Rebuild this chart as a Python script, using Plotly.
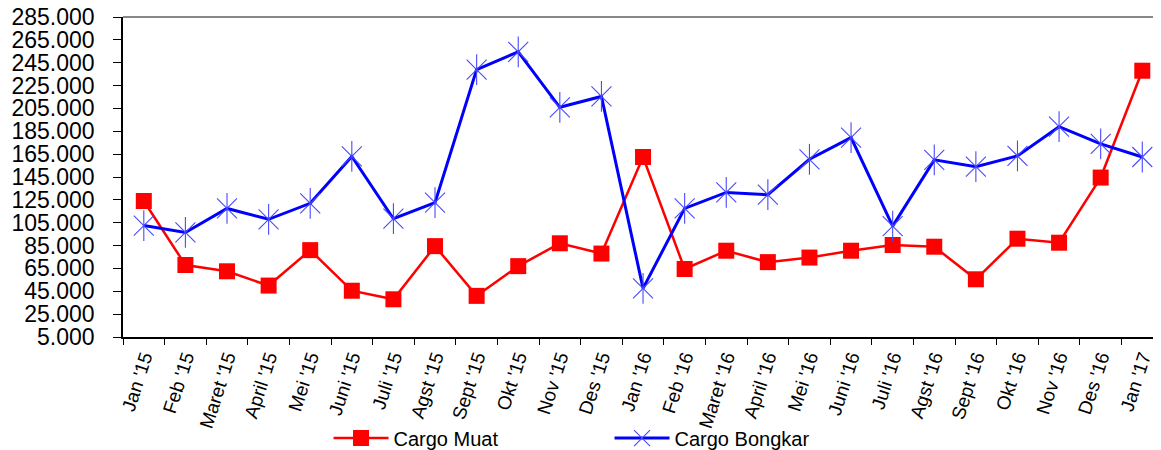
import plotly.graph_objects as go

categories = ["Jan '15", "Feb '15", "Maret '15", "April '15", "Mei '15", "Juni '15", "Juli '15",
              "Agst '15", "Sept '15", "Okt '15", "Nov '15", "Des '15",
              "Jan '16", "Feb '16", "Maret '16", "April '16", "Mei '16", "Juni '16", "Juli '16",
              "Agst '16", "Sept '16", "Okt '16", "Nov '16", "Des '16", "Jan '17"]

cargo_muat = [124000, 68000, 62500, 50000, 81000, 45500, 38000, 84500, 41000, 67000, 87000, 78000,
              162500, 64500, 80500, 70500, 74500, 80500, 85500, 84000, 55500, 91000, 87500, 144500, 238000]

cargo_bongkar = [102500, 96500, 117500, 108000, 122000, 163000, 108500, 122500, 239000, 254500, 206000, 215500,
                 47500, 117500, 131500, 129500, 160500, 179500, 102000, 160000, 154000, 163500, 189000, 174000, 162500]

y_ticks = list(range(5000, 285001, 20000))

x = list(range(len(categories)))

fig = go.Figure()
fig.add_trace(go.Scatter(
    x=x, y=cargo_muat, name="Cargo Muat", mode="lines+markers",
    line=dict(color="#FF0000", width=2.5),
    marker=dict(symbol="square", size=16, color="#FF0000"),
))
fig.add_trace(go.Scatter(
    x=x, y=cargo_bongkar, name="Cargo Bongkar", mode="lines+markers",
    line=dict(color="#0000FF", width=3),
    marker=dict(symbol="x-thin-open", size=20, color="#4848FF", line=dict(width=1.1, color="#4848FF")),
))
fig.add_trace(go.Scatter(
    x=x, y=cargo_bongkar, mode="markers", showlegend=False, hoverinfo="skip",
    marker=dict(symbol="line-ns-open", size=22, color="#4848FF", line=dict(width=1.1, color="#4848FF")),
))

fig.add_shape(type="line", xref="paper", yref="paper", x0=0, x1=1, y0=1, y1=1,
              line=dict(color="#888888", width=2))

fig.update_layout(
    width=1153, height=442,
    margin=dict(l=115, r=0, t=9, b=113, autoexpand=False),
    paper_bgcolor="white", plot_bgcolor="white",
    separators=",.",
    font=dict(family="Liberation Sans, Arial, sans-serif", color="black"),
    showlegend=True,
    legend=dict(orientation="h", x=0.198, xanchor="left", y=-0.316, yanchor="middle",
                font=dict(size=20), itemwidth=55, entrywidth=211, bgcolor="rgba(0,0,0,0)"),
    xaxis=dict(
        range=[-0.5, 24.45], tickmode="array", tickvals=x, ticktext=categories,
        tickangle=-72, tickfont=dict(size=19), ticks="", showgrid=False, zeroline=False,
        showline=True, linecolor="black", linewidth=1.5, automargin=False,
        minor=dict(tick0=-0.5, dtick=1, ticks="outside", ticklen=6, tickcolor="black", tickwidth=1),
    ),
    yaxis=dict(
        range=[5000, 285000], tickmode="array", tickvals=y_ticks, tickformat=",d",
        tickfont=dict(size=23), ticks="outside", ticklen=8, tickcolor="black",
        ticklabelstandoff=14, ticklabeloverflow="allow", automargin=False,
        showgrid=False, zeroline=False, showline=True, linecolor="black", linewidth=1.5,
    ),
)

fig.write_html("out.html")
